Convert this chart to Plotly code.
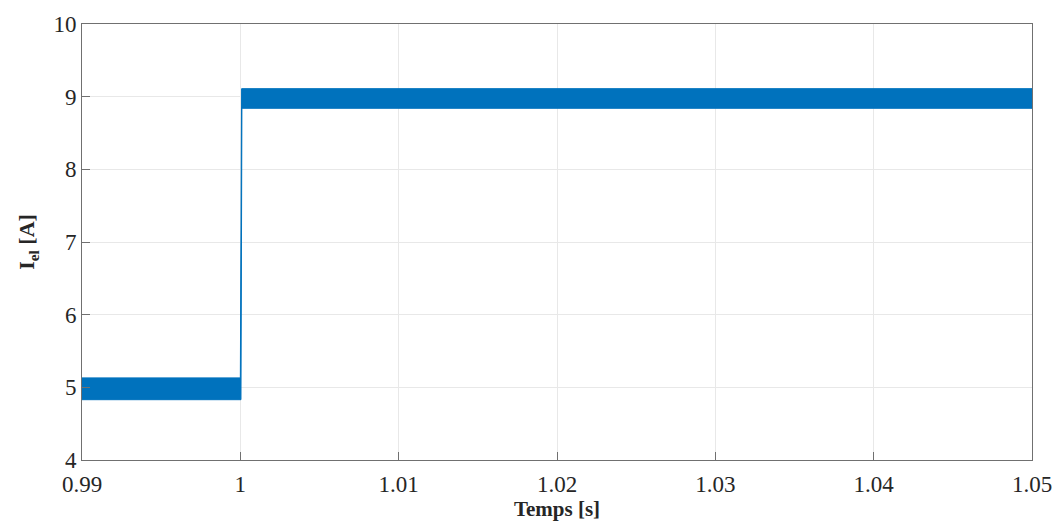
import plotly.graph_objects as go

# Envelope of the high-frequency ripple (upper edge left->right, lower edge right->left)
t_upper = [0.99, 1.0, 1.00008, 1.05]
i_upper = [5.13, 5.13, 9.11, 9.11]
t_lower = [1.05, 1.0001, 1.00004, 0.99]
i_lower = [8.84, 8.84, 4.83, 4.83]

x_ticks = [0.99, 1.0, 1.01, 1.02, 1.03, 1.04, 1.05]
x_ticktext = ["0.99", "1", "1.01", "1.02", "1.03", "1.04", "1.05"]
y_ticks = [4, 5, 6, 7, 8, 9, 10]

blue = "#0072BD"

fig = go.Figure()
fig.add_trace(go.Scatter(
    x=t_upper + t_lower,
    y=i_upper + i_lower,
    fill="toself",
    fillcolor=blue,
    mode="lines",
    line=dict(color=blue, width=1),
    hoverinfo="skip",
    showlegend=False,
))

font_family = "Liberation Serif, Times New Roman, serif"
axis_common = dict(
    showline=True, linecolor="#707070", linewidth=1, mirror=True,
    showgrid=True, gridcolor="#e8e8e8", gridwidth=1,
    ticks="inside", ticklen=8, tickcolor="#707070",
    zeroline=False, automargin=False,
    tickfont=dict(family=font_family, size=23, color="#262626"),
)

fig.update_layout(
    width=1061, height=528,
    margin=dict(l=82, r=29, t=24, b=68),
    paper_bgcolor="white", plot_bgcolor="white",
    showlegend=False,
    xaxis=dict(
        range=[0.99, 1.05], tickvals=x_ticks, ticktext=x_ticktext,
        ticklabelstandoff=3,
        title=dict(text="<b>Temps [s]</b>", font=dict(family=font_family, size=21, color="#262626"), standoff=2),
        **axis_common,
    ),
    yaxis=dict(
        range=[4, 10], tickvals=y_ticks,
        title=dict(text="<b>I<sub>el</sub> [A]</b>", font=dict(family=font_family, size=22, color="#262626"), standoff=12),
        **axis_common,
    ),
)

fig.write_html(
    "out.html",
    config={"displayModeBar": False},
    post_script="document.body.style.margin='0';document.body.style.overflow='hidden';",
)
